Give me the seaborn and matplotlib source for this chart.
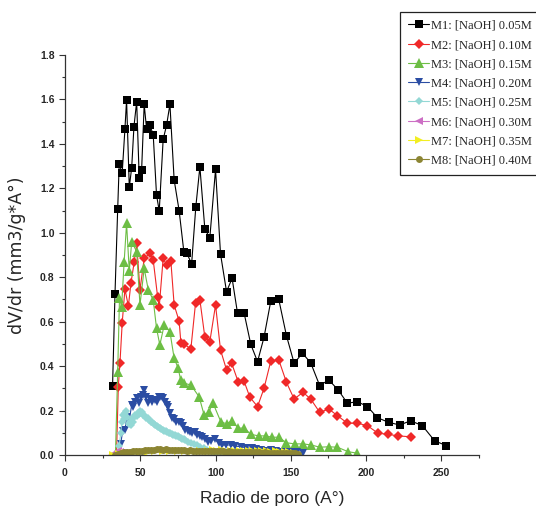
import numpy as np
import pandas as pd
import matplotlib
matplotlib.use("Agg")
import matplotlib.pyplot as plt
import seaborn as sns
from matplotlib.ticker import MultipleLocator, FormatStrFormatter

# ---- pore size distribution data: radius (A) vs dV/dr ----
m1_x = [31.6, 33.2, 35.0, 36.0, 38.0, 39.8, 40.9, 42.7, 44.3, 45.8, 47.6, 49.3, 50.9, 52.6,
        54.2, 56.4, 58.6, 60.8, 62.6, 65.2, 67.5, 69.7, 72.5, 75.8, 79.0, 80.8, 84.1, 86.9,
        89.6, 92.9, 96.2, 100.0, 103.3, 107.3, 111.0, 114.6, 119.0, 123.4, 127.9, 132.2,
        136.7, 142.0, 147.1, 152.2, 157.7, 163.2, 169.2, 175.2, 181.4, 187.6, 194.2, 200.9,
        207.5, 215.0, 222.3, 229.6, 237.4, 245.5, 253.3]
m1_y = [0.312, 0.723, 1.107, 1.308, 1.27, 1.466, 1.598, 1.205, 1.293, 1.478, 1.59, 1.248, 1.283,
        1.578, 1.466, 1.485, 1.44, 1.17, 1.098, 1.42, 1.485, 1.578, 1.238, 1.10, 0.912, 0.91,
        0.86, 1.117, 1.297, 1.016, 0.978, 1.285, 0.905, 0.735, 0.795, 0.638, 0.638, 0.498, 0.42,
        0.53, 0.693, 0.70, 0.537, 0.413, 0.458, 0.415, 0.312, 0.338, 0.293, 0.233, 0.24, 0.218,
        0.168, 0.147, 0.135, 0.154, 0.132, 0.064, 0.042]

m2_x = [34.2, 35.4, 36.5, 38.0, 39.8, 42.1, 43.8, 46.0, 47.6, 49.8, 52.6, 56.4, 58.6, 61.5,
        62.6, 65.2, 67.5, 70.3, 72.5, 75.8, 77.0, 79.0, 83.6, 86.7, 89.6, 92.9, 96.2, 100.0,
        103.3, 107.3, 110.6, 115.0, 118.8, 122.8, 127.9, 132.2, 136.7, 142.0, 147.1, 152.2,
        158.1, 163.2, 169.2, 175.2, 181.0, 187.6, 194.2, 200.9, 207.9, 214.5, 221.2, 229.6]
m2_y = [0.0, 0.307, 0.413, 0.595, 0.746, 0.67, 0.773, 0.87, 0.952, 0.743, 0.885, 0.907, 0.877,
        0.713, 0.667, 0.885, 0.855, 0.874, 0.675, 0.603, 0.503, 0.5, 0.477, 0.683, 0.698, 0.53,
        0.51, 0.675, 0.473, 0.383, 0.415, 0.33, 0.335, 0.26, 0.218, 0.30, 0.423, 0.428, 0.327,
        0.252, 0.282, 0.252, 0.192, 0.207, 0.177, 0.143, 0.143, 0.132, 0.098, 0.093, 0.086, 0.082]

m3_x = [33.5, 35.0, 36.2, 37.6, 39.3, 40.9, 42.7, 44.3, 47.6, 49.8, 52.6, 55.3, 58.6, 60.8,
        63.0, 65.9, 69.7, 72.5, 75.2, 76.8, 79.2, 83.6, 89.1, 92.4, 95.7, 98.2, 103.5, 107.3,
        111.0, 115.0, 119.0, 123.4, 128.7, 133.2, 137.6, 142.0, 147.1, 152.6, 158.1, 163.7,
        169.2, 175.2, 181.0, 188.0, 194.2]
m3_y = [0.0, 0.375, 0.705, 0.667, 0.87, 1.043, 0.827, 0.96, 0.915, 0.675, 0.84, 0.743, 0.698,
        0.57, 0.495, 0.585, 0.555, 0.435, 0.39, 0.338, 0.323, 0.315, 0.262, 0.18, 0.195, 0.235,
        0.15, 0.14, 0.155, 0.12, 0.122, 0.093, 0.086, 0.086, 0.08, 0.08, 0.055, 0.05, 0.05,
        0.045, 0.035, 0.037, 0.035, 0.015, 0.008]

m4_x = [35.5, 37.0, 38.3, 39.8, 41.0, 42.5, 44.3, 45.3, 46.5, 47.6, 49.0, 50.2, 51.5, 52.5,
        53.5, 55.3, 56.5, 58.0, 59.7, 61.0, 62.5, 64.0, 65.2, 66.4, 67.5, 68.5, 70.0, 71.0,
        72.5, 74.0, 75.5, 77.0, 78.5, 80.0, 81.5, 83.0, 84.5, 86.3, 88.0, 89.5, 91.0, 93.0,
        95.0, 97.0, 99.5, 102.0, 104.0, 107.0, 110.0, 113.0, 117.0, 120.0, 124.0, 127.0,
        130.5, 134.0, 137.0, 140.0, 144.0, 147.0, 150.0, 154.0, 158.0]
m4_y = [0.0, 0.05, 0.108, 0.113, 0.17, 0.15, 0.225, 0.218, 0.24, 0.255, 0.235, 0.262, 0.27,
        0.293, 0.26, 0.233, 0.25, 0.238, 0.248, 0.24, 0.26, 0.262, 0.255, 0.24, 0.225, 0.218,
        0.19, 0.165, 0.16, 0.15, 0.148, 0.143, 0.13, 0.113, 0.11, 0.105, 0.1, 0.105, 0.09,
        0.085, 0.082, 0.07, 0.06, 0.065, 0.07, 0.055, 0.045, 0.045, 0.045, 0.04, 0.037, 0.033,
        0.03, 0.027, 0.022, 0.02, 0.022, 0.018, 0.015, 0.015, 0.015, 0.012, 0.01]

m5_x = [35.0, 36.0, 37.0, 37.8, 38.5, 39.3, 40.0, 40.8, 41.5, 42.3, 43.0, 43.8, 44.5, 45.3,
        46.0, 46.8, 47.5, 48.3, 49.0, 49.8, 50.5, 51.3, 52.0, 53.0, 54.0, 55.0, 56.0, 57.0,
        58.0, 59.0, 60.0, 61.0, 62.0, 63.0, 64.0, 65.0, 66.0, 67.0, 68.0, 69.0, 70.0, 71.0,
        72.0, 73.0, 74.0, 75.0, 76.0, 77.0, 78.0, 79.0, 80.0, 82.0, 84.0, 86.0, 88.0, 90.0,
        92.0, 94.0, 96.0, 98.0, 100.0, 103.0, 106.0, 110.0]
m5_y = [0.0, 0.04, 0.10, 0.15, 0.18, 0.16, 0.19, 0.20, 0.17, 0.14, 0.15, 0.135, 0.16, 0.15,
        0.17, 0.18, 0.175, 0.19, 0.185, 0.20, 0.19, 0.195, 0.18, 0.175, 0.165, 0.168, 0.158,
        0.15, 0.147, 0.14, 0.137, 0.13, 0.128, 0.122, 0.118, 0.113, 0.11, 0.106, 0.102, 0.1,
        0.097, 0.093, 0.09, 0.088, 0.086, 0.084, 0.082, 0.078, 0.074, 0.07, 0.066, 0.06, 0.054,
        0.05, 0.043, 0.036, 0.03, 0.022, 0.018, 0.014, 0.01, 0.008, 0.006, 0.004]

m6_x = [31.5, 32.5, 33.5, 34.5, 35.5, 36.5, 37.5, 38.5]
m6_y = [0.0, 0.005, 0.01, 0.014, 0.016, 0.013, 0.01, 0.008]

m7_x = [32, 36, 40, 45, 50, 55, 60, 65, 70, 75, 80, 85, 90, 95, 98, 101, 104, 107, 110, 113,
        116, 119, 122, 125, 128, 131, 134, 137, 140, 143, 146, 149, 152]
m7_y = [0.0, 0.005, 0.008, 0.01, 0.012, 0.015, 0.016, 0.017, 0.016, 0.017, 0.018, 0.018,
        0.019, 0.02, 0.021, 0.02, 0.021, 0.02, 0.02, 0.019, 0.02, 0.018, 0.019, 0.017, 0.018,
        0.016, 0.017, 0.015, 0.016, 0.014, 0.014, 0.012, 0.01]

m8_x = list(range(33, 156, 2))
m8_y = [0.0, 0.006, 0.01, 0.012, 0.015, 0.014, 0.017, 0.016, 0.019, 0.02, 0.021, 0.022, 0.024,
        0.023, 0.025, 0.026, 0.024, 0.025, 0.023, 0.024, 0.022, 0.023, 0.021, 0.022, 0.02,
        0.021, 0.02, 0.019, 0.02, 0.018, 0.019, 0.018, 0.017, 0.018, 0.016, 0.017, 0.016,
        0.015, 0.016, 0.015, 0.014, 0.015, 0.014, 0.013, 0.014, 0.013, 0.012, 0.013, 0.012,
        0.011, 0.012, 0.011, 0.01, 0.011, 0.01, 0.009, 0.01, 0.009, 0.008, 0.008, 0.007, 0.006]

labels = ["M1: [NaOH] 0.05M", "M2: [NaOH] 0.10M", "M3: [NaOH] 0.15M", "M4: [NaOH] 0.20M",
          "M5: [NaOH] 0.25M", "M6: [NaOH] 0.30M", "M7: [NaOH] 0.35M", "M8: [NaOH] 0.40M"]
colors = ["#000000", "#F02828", "#6DBE45", "#2B4DA3", "#93D8D5", "#CC6FC4", "#F2EE22", "#8C8533"]
markers = ["s", "D", "^", "v", "D", "<", ">", "o"]
msizes = [5.4, 4.6, 6.8, 6.4, 4.4, 5.5, 5.5, 5.0]

xs = [m1_x, m2_x, m3_x, m4_x, m5_x, m6_x, m7_x, m8_x]
ys = [m1_y, m2_y, m3_y, m4_y, m5_y, m6_y, m7_y, m8_y]

sns.set_theme(style="white")
plt.rcParams["font.family"] = ["Liberation Sans", "DejaVu Sans"]

fig = plt.figure(figsize=(5.36, 5.14), dpi=100)
ax = fig.add_axes([65 / 536, 1 - 455 / 514, (479 - 65) / 536, (455 - 55) / 514])

handles = []
for x, y, lab, c, m, s in zip(xs, ys, labels, colors, markers, msizes):
    df = pd.DataFrame({"r": x, "dvdr": y})
    sns.lineplot(data=df, x="r", y="dvdr", ax=ax, color=c, marker=m, markersize=s,
                 markeredgewidth=0, linewidth=0.8, sort=False, estimator=None,
                 legend=False)
    handles.append(ax.lines[-1])

ax.set_xlim(0, 275)
ax.set_ylim(0, 1.8)
ax.xaxis.set_major_locator(MultipleLocator(50))
ax.xaxis.set_minor_locator(MultipleLocator(25))
ax.yaxis.set_major_locator(MultipleLocator(0.2))
ax.yaxis.set_minor_locator(MultipleLocator(0.1))
ax.yaxis.set_major_formatter(FormatStrFormatter("%.1f"))

for side in ["top", "right"]:
    ax.spines[side].set_visible(False)
for side in ["left", "bottom"]:
    ax.spines[side].set_color("#333333")
    ax.spines[side].set_linewidth(0.9)

ax.tick_params(axis="both", which="major", direction="out", length=4.5, width=0.8,
               color="#333333", labelsize=7.5, pad=3)
ax.tick_params(axis="both", which="minor", direction="out", length=2.5, width=0.8,
               color="#333333")
ax.tick_params(axis="x", which="major", pad=5)
ax.tick_params(left=True, bottom=True, which="both")
for t in ax.get_xticklabels() + ax.get_yticklabels():
    t.set_fontweight("bold")

ax.set_xlabel("Radio de poro (A°)", fontsize=12.5, labelpad=9)
ax.set_ylabel("dV/dr (mm3/g*A°)", fontsize=12.5, family="DejaVu Sans", labelpad=10)

leg = fig.legend(handles, labels, loc="upper left",
                 bbox_to_anchor=(400 / 536, 1 - 11.7 / 514), frameon=True,
                 fancybox=False, edgecolor="#222222", framealpha=1,
                 prop={"family": "Liberation Serif", "size": 9},
                 handlelength=1.7, handletextpad=0.1, labelspacing=0.58,
                 borderpad=0.65, borderaxespad=0)
leg.get_frame().set_linewidth(0.9)

fig.savefig("out.png", dpi=100)
